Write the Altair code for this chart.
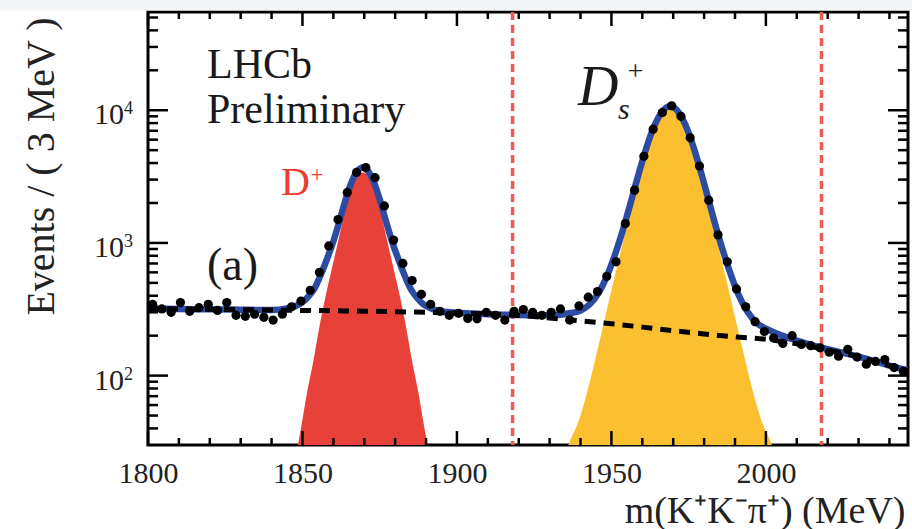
import altair as alt
import pandas as pd

SERIF = "Liberation Serif, Times New Roman, serif"

# ---------------- data ----------------
mass_bins = [1801.5, 1804.5, 1807.5, 1810.5, 1813.5, 1816.5, 1819.5, 1822.5, 1825.5, 1828.5,
             1831.5, 1834.5, 1837.5, 1840.5, 1843.5, 1846.5, 1849.5, 1852.5, 1855.5, 1858.5,
             1861.5, 1864.5, 1867.5, 1870.5, 1873.5, 1876.5, 1879.5, 1882.5, 1885.5, 1888.5,
             1891.5, 1894.5, 1897.5, 1900.5, 1903.5, 1906.5, 1909.5, 1912.5, 1915.5, 1918.5,
             1921.5, 1924.5, 1927.5, 1930.5, 1933.5, 1936.5, 1939.5, 1942.5, 1945.5, 1948.5,
             1951.5, 1954.5, 1957.5, 1960.5, 1963.5, 1966.5, 1969.5, 1972.5, 1975.5, 1978.5,
             1981.5, 1984.5, 1987.5, 1990.5, 1993.5, 1996.5, 1999.5, 2002.5, 2005.5, 2008.5,
             2011.5, 2014.5, 2017.5, 2020.5, 2023.5, 2026.5, 2029.5, 2032.5, 2035.5, 2038.5,
             2041.5, 2044.5]
events = [345, 318, 300, 355, 305, 325, 345, 310, 355, 285,
          280, 290, 275, 262, 290, 330, 365, 440, 600, 950,
          1500, 2400, 3400, 3700, 3100, 1900, 1050, 700, 520, 410,
          345, 305, 285, 295, 270, 268, 300, 285, 262, 305,
          315, 300, 285, 300, 318, 262, 335, 390, 430, 560,
          720, 1400, 2500, 4500, 7200, 9600, 10800, 9000, 6200, 3800,
          2100, 1150, 720, 450, 330, 255, 215, 192, 175, 200,
          172, 168, 162, 150, 140, 158, 138, 122, 128, 132,
          115, 108]

total_mass = [1800, 1810, 1820, 1830, 1840, 1845, 1848, 1850, 1852, 1854,
              1856, 1858, 1860, 1862, 1864, 1866, 1868, 1869.5, 1871, 1873,
              1875, 1877, 1879, 1881, 1883, 1885, 1887, 1889, 1891, 1894,
              1898, 1905, 1915, 1925, 1932, 1936, 1940, 1943, 1946, 1949,
              1951, 1953, 1955, 1957, 1959, 1961, 1963, 1965, 1967, 1969,
              1971, 1973, 1975, 1977, 1979, 1981, 1983, 1985, 1987, 1989,
              1991, 1994, 1997, 2000, 2005, 2010, 2020, 2030, 2040, 2046]
total_fit = [320, 318, 316, 314, 312, 321, 336, 357, 397, 459,
             581, 763, 1028, 1468, 2137, 2917, 3531, 3706, 3531, 2915,
             2135, 1464, 1023, 758, 574, 452, 388, 347, 326, 308,
             300, 294, 288, 285, 286, 294, 309, 345, 426, 597,
             795, 1102, 1589, 2336, 3433, 4931, 6778, 8625, 10122, 10719,
             10117, 8614, 6762, 4910, 3407, 2305, 1553, 1061, 749, 547,
             414, 304, 250, 226, 201, 184, 158, 139, 119, 109]

bkg_mass = [1800, 1810, 1820, 1830, 1840, 1850, 1860, 1870, 1880, 1890, 1900, 1910, 1920,
            1930, 1940, 1950, 1960, 1970, 1980, 1990, 2000, 2010, 2020, 2030, 2040, 2046]
bkg_fit = [320, 318, 316, 314, 312, 310, 308, 306, 303, 300, 296, 292, 284,
           272, 259, 246, 232, 218, 206, 196, 188, 174, 156, 139, 119, 109]

dplus_mass = [1845.5, 1847.5, 1849.5, 1851.5, 1853.5, 1855.5, 1857.5, 1859.5, 1861.5,
              1863.5, 1865.5, 1867.5, 1869.5, 1871.5, 1873.5, 1875.5, 1877.5, 1879.5,
              1881.5, 1883.5, 1885.5, 1887.5, 1889.5, 1891.5, 1893.5]
dplus_fit = [12, 22, 40, 75, 128, 235, 400, 640, 1020, 1640, 2420, 3120, 3400,
             3120, 2420, 1640, 1020, 640, 400, 235, 128, 75, 40, 22, 12]

ds_mass = [1929, 1931, 1933, 1935, 1937, 1939, 1941, 1943, 1945, 1947, 1949, 1951, 1953,
           1955, 1957, 1959, 1961, 1963, 1965, 1967, 1969, 1971, 1973, 1975, 1977, 1979,
           1981, 1983, 1985, 1987, 1989, 1991, 1993, 1995, 1997, 1999, 2001, 2003, 2005,
           2007, 2009]
ds_fit = [11, 15, 20, 26, 34, 43, 60, 90, 140, 220, 350, 550, 860, 1350, 2100, 3200,
          4700, 6550, 8400, 9900, 10500, 9900, 8400, 6550, 4700, 3200, 2100, 1350, 860,
          550, 350, 220, 140, 90, 60, 43, 34, 26, 20, 15, 11]

window_edges = [1918, 2018]

x_major_ticks = [1800, 1850, 1900, 1950, 2000]
x_minor_ticks = [1810, 1820, 1830, 1840, 1860, 1870, 1880, 1890, 1910, 1920, 1930, 1940,
                 1960, 1970, 1980, 1990, 2010, 2020, 2030, 2040]
y_major_ticks = [100, 1000, 10000]
y_exponents = ["2", "3", "4"]
y_minor_ticks = [40, 50, 60, 70, 80, 90, 200, 300, 400, 500, 600, 700, 800, 900,
                 2000, 3000, 4000, 5000, 6000, 7000, 8000, 9000, 20000, 30000, 40000, 50000]

# ---------------- frames ----------------
W, H = 760, 433
pts = pd.DataFrame({"m": mass_bins, "n": events})
tot = pd.DataFrame({"m": total_mass, "n": total_fit})
bkg = pd.DataFrame({"m": bkg_mass, "n": bkg_fit})
dpl = pd.DataFrame({"m": dplus_mass, "n": dplus_fit})
dsp = pd.DataFrame({"m": ds_mass, "n": ds_fit})
win = pd.DataFrame({"m": window_edges})
xmaj = pd.DataFrame({"m": x_major_ticks})
xmin = pd.DataFrame({"m": x_minor_ticks})
ymaj = pd.DataFrame({"n": y_major_ticks, "e": y_exponents})
ymin = pd.DataFrame({"n": y_minor_ticks})

xscale = alt.Scale(domain=[1800, 2046], nice=False, zero=False)
yscale = alt.Scale(type="log", domain=[30, 55000], nice=False)

x_axis = alt.Axis(values=x_major_ticks, format="d", title="m(K⁺K⁻π⁺) (MeV)",
                  titleAnchor="end", titleAlign="right", titleX=757, titleY=77,
                  titleBaseline="alphabetic", labelPadding=13, labelFlush=False,
                  labelFont=SERIF, labelFontSize=30, labelColor="#222222",
                  titleFont=SERIF, titleFontSize=38, titleColor="#222222",
                  titleFontWeight="normal", grid=False, domain=False, ticks=False)
y_axis = alt.Axis(values=y_major_ticks, labels=False, title="Events / ( 3 MeV )",
                  titleAngle=270, titleAlign="right", titleBaseline="alphabetic",
                  titleX=-95, titleY=5, titleFont=SERIF, titleFontSize=40,
                  titleColor="#222222", titleFontWeight="normal",
                  grid=False, domain=False, ticks=False)


def ex(f="m"):
    return alt.X(f, type="quantitative", scale=xscale, axis=x_axis)


def ey(f="n", **kw):
    return alt.Y(f, type="quantitative", scale=yscale, axis=y_axis, **kw)


def xd(v):
    return alt.XDatum(v, type="quantitative", scale=xscale, axis=x_axis)


def yd(v):
    return alt.YDatum(v, type="quantitative", scale=yscale, axis=y_axis)


strip = alt.Chart(pd.DataFrame({"n": [1000]})).mark_rect(color="#f2f6f8").encode(
    x=alt.value(-148), x2=alt.value(W + 4), y=alt.value(-12), y2=alt.value(-1.5))

area_d = alt.Chart(dpl).mark_area(color="#e8413a", clip=True, interpolate="monotone").encode(
    x=ex(), y=ey(stack=None), y2=alt.Y2Datum(1))
area_ds = alt.Chart(dsp).mark_area(color="#fcbf2f", clip=True, interpolate="monotone").encode(
    x=ex(), y=ey(stack=None), y2=alt.Y2Datum(1))

rules = alt.Chart(win).mark_rule(color="#ef5a55", strokeWidth=3.5, strokeDash=[8, 5]).encode(
    x=ex(), y=alt.value(0), y2=alt.value(H))

total_line = alt.Chart(tot).mark_line(color="#2c4ba3", strokeWidth=6.5, clip=True,
                                      interpolate="monotone").encode(x=ex(), y=ey())
bkg_line = alt.Chart(bkg).mark_line(color="black", strokeWidth=5, strokeDash=[11, 8],
                                    clip=True, interpolate="monotone").encode(x=ex(), y=ey())
points = alt.Chart(pts).mark_circle(color="black", size=85, opacity=1).encode(x=ex(), y=ey())

tick_style = dict(color="black", strokeWidth=2.5)
xt_b_maj = alt.Chart(xmaj).mark_rule(**tick_style).encode(x=ex(), y=alt.value(H), y2=alt.value(H - 14))
xt_b_min = alt.Chart(xmin).mark_rule(**tick_style).encode(x=ex(), y=alt.value(H), y2=alt.value(H - 7))
xt_t_maj = alt.Chart(xmaj).mark_rule(**tick_style).encode(x=ex(), y=alt.value(0), y2=alt.value(14))
xt_t_min = alt.Chart(xmin).mark_rule(**tick_style).encode(x=ex(), y=alt.value(0), y2=alt.value(7))
yt_l_maj = alt.Chart(ymaj).mark_rule(**tick_style).encode(y=ey(), x=alt.value(0), x2=alt.value(20))
yt_l_min = alt.Chart(ymin).mark_rule(**tick_style).encode(y=ey(), x=alt.value(0), x2=alt.value(10))
yt_r_maj = alt.Chart(ymaj).mark_rule(**tick_style).encode(y=ey(), x=alt.value(W), x2=alt.value(W - 20))
yt_r_min = alt.Chart(ymin).mark_rule(**tick_style).encode(y=ey(), x=alt.value(W), x2=alt.value(W - 10))

ylab_base = alt.Chart(ymaj).mark_text(font=SERIF, fontSize=30, align="right", baseline="alphabetic",
                                      dy=14, color="#222222", text="10").encode(
    y=ey(), x=alt.value(-24))
ylab_exp = alt.Chart(ymaj).mark_text(font=SERIF, fontSize=18, align="left", baseline="alphabetic",
                                     dy=4, color="#222222").encode(
    y=ey(), x=alt.value(-24), text="e:N")


def label(txt, xv, yv, size, color="#1a1a1a", style="normal"):
    return alt.Chart(pd.DataFrame({"t": [txt]})).mark_text(
        font=SERIF, fontSize=size, align="left", baseline="alphabetic", color=color,
        fontStyle=style).encode(x=xd(xv), y=yd(yv), text="t:N")


texts = [
    label("LHCb", 1819.1, 17500, 42),
    label("Preliminary", 1819.1, 8014, 42),
    label("(a)", 1819.1, 526, 46),
    label("D", 1843.05, 2298, 40, color="#ee3b2f"),
    label("+", 1852.6, 2880, 23, color="#ee3b2f"),
    label("D", 1939.2, 10955, 56, style="italic"),
    label("s", 1952.1, 8590, 30, style="italic"),
    label("+", 1955.2, 16900, 28),
]

chart = alt.layer(
    strip, area_d, area_ds, rules, total_line, bkg_line, points,
    xt_b_maj, xt_b_min, xt_t_maj, xt_t_min, yt_l_maj, yt_l_min, yt_r_maj, yt_r_min,
    ylab_base, ylab_exp, *texts
).properties(
    width=W, height=H,
    padding={"left": 148, "top": 12, "right": 4, "bottom": 84},
    autosize=alt.AutoSizeParams(type="none"),
    background="white",
).configure_view(
    stroke="black", strokeWidth=3
)

chart.save("out.html", embed_options={"renderer": "svg", "actions": False})
